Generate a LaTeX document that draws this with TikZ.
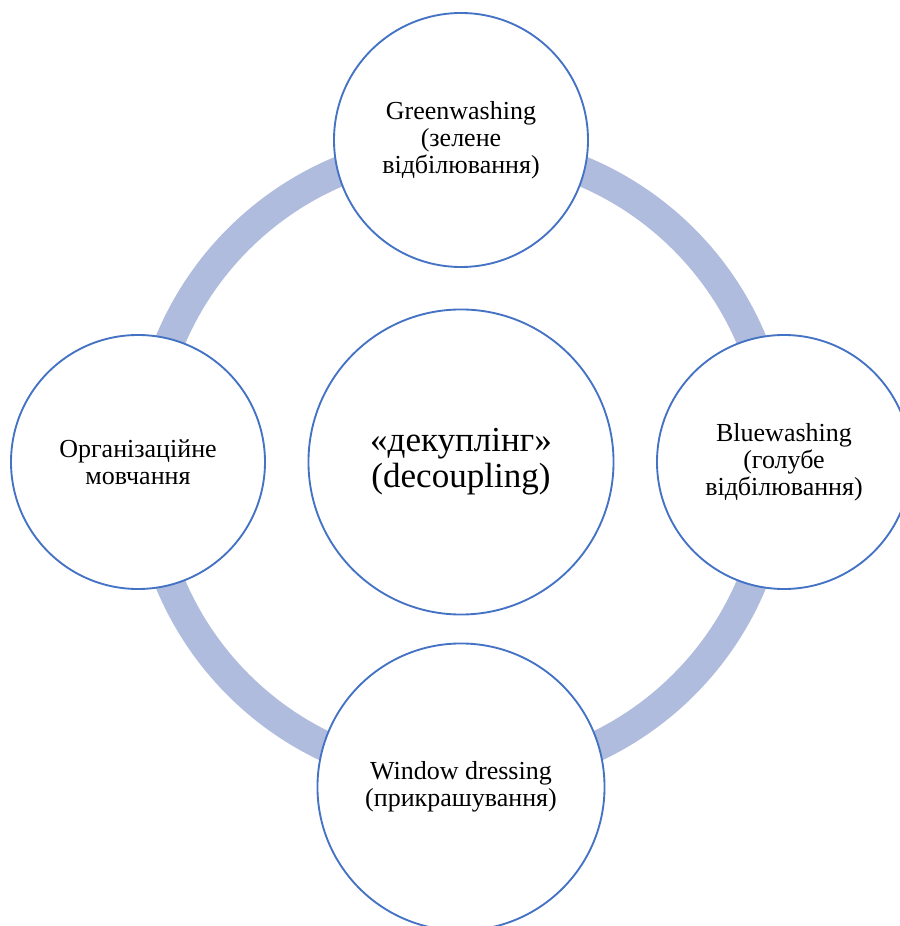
\documentclass[tikz,border=0pt]{standalone}
\usepackage{fontspec}
\setmainfont{Liberation Serif}
\definecolor{ringblue}{HTML}{AFBCDE}
\definecolor{edgeblue}{HTML}{4472C4}
\begin{document}
\begin{tikzpicture}[x=0.75pt,y=0.75pt,
  bubble/.style={circle,draw=edgeblue,line width=1.4pt,fill=white,inner sep=0pt,align=center,
    font=\fontsize{19.5}{20.4}\selectfont},
  hubstyle/.style={bubble,font=\fontsize{26.3}{27}\selectfont}]
\useasboundingbox (0,0) rectangle (900,926);
% centre of the cycle
\coordinate (c) at (461,464);
% the ring that links the outer bubbles
\draw[ringblue,line width=22.5pt] (c) circle[radius=315];
% outer bubbles (sizes in pt)
\node[bubble,minimum size=190.5pt] (green) at (461,786) {Greenwashing\\(зелене\\відбілювання)};
\node[bubble,minimum size=190.5pt] (blue) at (784,464) {Bluewashing\\(голубе\\відбілювання)};
\node[bubble,minimum size=215.3pt] (window) at (461,139) {Window dressing\\(прикрашування)};
\node[bubble,minimum size=190.5pt] (silence) at (138,464) {Організаційне\\мовчання};
% central bubble
\node[hubstyle,minimum size=228.8pt] (hub) at (c) {«декуплінг»\\(decoupling)};
\end{tikzpicture}
\end{document}
